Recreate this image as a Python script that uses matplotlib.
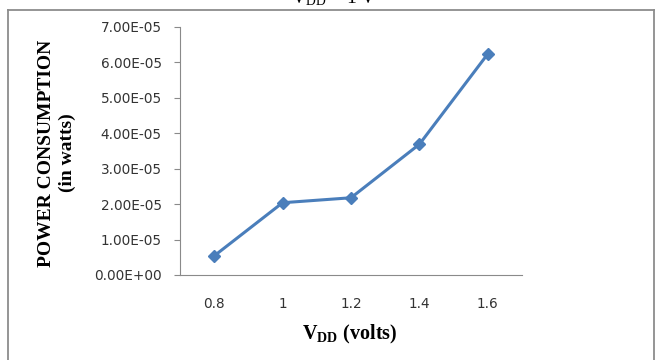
import matplotlib
matplotlib.use("Agg")
import matplotlib.pyplot as plt
from matplotlib.lines import Line2D

plt.rcParams['mathtext.fontset'] = 'custom'
plt.rcParams['mathtext.rm'] = 'Liberation Serif'
plt.rcParams['mathtext.bf'] = 'Liberation Serif:bold'

vdd = ["0.8", "1", "1.2", "1.4", "1.6"]
power = [5.4e-6, 2.04e-5, 2.18e-5, 3.69e-5, 6.24e-5]
yticks = [0, 1e-5, 2e-5, 3e-5, 4e-5, 5e-5, 6e-5, 7e-5]
ytick_labels = ["0.00E+00", "1.00E-05", "2.00E-05", "3.00E-05",
                "4.00E-05", "5.00E-05", "6.00E-05", "7.00E-05"]

fig = plt.figure(figsize=(6.55, 3.6), dpi=100)
ax = fig.add_axes([180 / 655, 85 / 360, 342 / 655, 248 / 360])

x = range(len(vdd))
ax.plot(x, power, color='#4A7EBB', lw=2.2, marker='D', markersize=6.5,
        markerfacecolor='#4A7EBB', markeredgecolor='#4A7EBB')

ax.set_xlim(-0.5, len(vdd) - 0.5)
ax.set_ylim(0, 7e-5)
ax.set_xticks(list(x))
ax.set_xticklabels(vdd)
ax.set_yticks(yticks)
ax.set_yticklabels(ytick_labels)

for s in ['top', 'right']:
    ax.spines[s].set_visible(False)
for s in ['left', 'bottom']:
    ax.spines[s].set_color('#8a8a8a')
    ax.spines[s].set_linewidth(0.8)

ax.tick_params(axis='y', direction='out', length=4.5, width=0.8, color='#8a8a8a',
               pad=8.5, labelsize=9.8, labelcolor='#333333')
ax.tick_params(axis='x', length=0, pad=16, labelsize=9.8, labelcolor='#333333')
for lab in ax.get_xticklabels() + ax.get_yticklabels():
    lab.set_family('DejaVu Sans')

# axis titles
fig.text(57 / 655, 1 - 153 / 360, "POWER CONSUMPTION\n(in watts)", rotation=90,
         ha='center', va='center', multialignment='center', linespacing=1.35,
         family='Liberation Serif', fontweight='bold', fontsize=14)
fig.text(350 / 655, 26 / 360, r'$\mathbf{V_{DD}}$ (volts)', ha='center', va='center',
         family='Liberation Serif', fontweight='bold', fontsize=14.5)

# caption above the frame, cut off at the top edge
fig.text(334 / 655, 1 - 3 / 360, r'$\mathrm{V_{DD}}$ = 1 V', ha='center', va='baseline',
         family='Liberation Serif', fontsize=14)

# outer frame
fy = 1 - 10 / 360
fx0 = 7.5 / 655
fx1 = 653.5 / 655
frame = dict(transform=fig.transFigure, color='#8c8c8c', lw=1.3)
fig.add_artist(Line2D([fx0, fx1], [fy, fy], **frame))
fig.add_artist(Line2D([fx0, fx0], [-0.01, fy], **frame))
fig.add_artist(Line2D([fx1, fx1], [-0.01, fy], **frame))

fig.savefig("out.png", dpi=100)
